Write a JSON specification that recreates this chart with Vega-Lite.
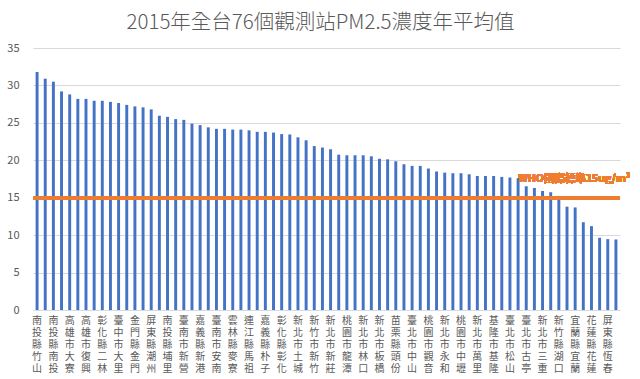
{
  "$schema": "https://vega.github.io/schema/vega-lite/v6.json",
  "width": 587,
  "height": 262,
  "autosize": {"type": "none"},
  "padding": {"left": 33, "top": 48, "right": 20, "bottom": 69},
  "background": "white",
  "title": {
    "text": "2015年全台76個觀測站PM2.5濃度年平均值",
    "font": "Noto Sans CJK TC",
    "fontSize": 20.5,
    "fontWeight": 300,
    "color": "#595959",
    "anchor": "middle",
    "dx": -6,
    "offset": 9
  },
  "config": {
    "view": {"stroke": null},
    "font": "Noto Sans CJK TC",
    "axisY": {"tickCount": 8, "labelOverlap": false}
  },
  "data": {
    "values": [
      {"station": "南投縣竹山", "pm25": 31.8},
      {"station": "高雄市小港", "pm25": 30.9},
      {"station": "南投縣南投", "pm25": 30.5},
      {"station": "高雄市前金", "pm25": 29.2},
      {"station": "高雄市大寮", "pm25": 28.8},
      {"station": "高雄市林園", "pm25": 28.2},
      {"station": "高雄市復興", "pm25": 28.2},
      {"station": "高雄市鳳山", "pm25": 27.95},
      {"station": "彰化縣二林", "pm25": 27.95},
      {"station": "高雄市仁武", "pm25": 27.8},
      {"station": "臺中市大里", "pm25": 27.65},
      {"station": "高雄市前鎮", "pm25": 27.4},
      {"station": "金門縣金門", "pm25": 27.2},
      {"station": "嘉義市嘉義", "pm25": 27.07},
      {"station": "屏東縣潮州", "pm25": 26.8},
      {"station": "高雄市左營", "pm25": 25.95},
      {"station": "南投縣埔里", "pm25": 25.8},
      {"station": "臺南市臺南", "pm25": 25.5},
      {"station": "臺南市新營", "pm25": 25.4},
      {"station": "高雄市楠梓", "pm25": 24.9},
      {"station": "嘉義縣新港", "pm25": 24.7},
      {"station": "雲林縣斗六", "pm25": 24.4},
      {"station": "臺南市安南", "pm25": 24.2},
      {"station": "高雄市橋頭", "pm25": 24.2},
      {"station": "雲林縣麥寮", "pm25": 24.1},
      {"station": "臺南市善化", "pm25": 24.1},
      {"station": "連江縣馬祖", "pm25": 24.0},
      {"station": "屏東縣屏東", "pm25": 23.8},
      {"station": "嘉義縣朴子", "pm25": 23.8},
      {"station": "臺中市忠明", "pm25": 23.7},
      {"station": "彰化縣彰化", "pm25": 23.5},
      {"station": "高雄市美濃", "pm25": 23.45},
      {"station": "新北市土城", "pm25": 23.07},
      {"station": "雲林縣崙背", "pm25": 22.67},
      {"station": "新竹市新竹", "pm25": 21.9},
      {"station": "苗栗縣苗栗", "pm25": 21.7},
      {"station": "新北市新莊", "pm25": 21.47},
      {"station": "臺中市沙鹿", "pm25": 20.75},
      {"station": "桃園市龍潭", "pm25": 20.67},
      {"station": "臺中市西屯", "pm25": 20.67},
      {"station": "新北市林口", "pm25": 20.67},
      {"station": "雲林縣臺西", "pm25": 20.53},
      {"station": "新北市板橋", "pm25": 20.2},
      {"station": "彰化縣線西", "pm25": 20.13},
      {"station": "苗栗縣頭份", "pm25": 19.87},
      {"station": "臺中市豐原", "pm25": 19.47},
      {"station": "臺北市中山", "pm25": 19.25},
      {"station": "桃園市平鎮", "pm25": 19.25},
      {"station": "桃園市觀音", "pm25": 18.9},
      {"station": "桃園市桃園", "pm25": 18.5},
      {"station": "新北市永和", "pm25": 18.35},
      {"station": "臺北市萬華", "pm25": 18.27},
      {"station": "桃園市中壢", "pm25": 18.27},
      {"station": "新北市新店", "pm25": 18.13},
      {"station": "新北市萬里", "pm25": 17.9},
      {"station": "苗栗縣三義", "pm25": 17.9},
      {"station": "基隆市基隆", "pm25": 17.9},
      {"station": "新北市菜寮", "pm25": 17.78},
      {"station": "臺北市松山", "pm25": 17.7},
      {"station": "新竹縣竹東", "pm25": 17.6},
      {"station": "臺北市古亭", "pm25": 16.53},
      {"station": "桃園市大園", "pm25": 16.3},
      {"station": "新北市三重", "pm25": 15.9},
      {"station": "新北市汐止", "pm25": 15.73},
      {"station": "新竹縣湖口", "pm25": 15.24},
      {"station": "新北市淡水", "pm25": 13.8},
      {"station": "宜蘭縣宜蘭", "pm25": 13.7},
      {"station": "臺北市士林", "pm25": 11.73},
      {"station": "花蓮縣花蓮", "pm25": 11.2},
      {"station": "臺東縣臺東", "pm25": 9.65},
      {"station": "屏東縣恆春", "pm25": 9.47},
      {"station": "臺東縣關山", "pm25": 9.42}
    ]
  },
  "layer": [
    {
      "mark": {"type": "bar", "color": "#4472C4"},
      "encoding": {
        "x": {
          "field": "station",
          "type": "nominal",
          "sort": null,
          "scale": {"paddingInner": 0.64, "paddingOuter": 0.32},
          "axis": {
            "title": null,
            "domain": true,
            "domainColor": "#d9d9d9",
            "ticks": false,
            "grid": false,
            "labelAngle": 0,
            "labelAlign": "center",
            "labelBaseline": "top",
            "labelColor": "#595959",
            "labelFont": "Noto Sans CJK TC",
            "labelFontSize": 10,
            "labelLineHeight": 12,
            "labelPadding": 5,
            "labelOverlap": false,
            "labelExpr": "indexof(domain('x'), datum.value) % 2 == 0 ? split(datum.label, '') : ''"
          }
        },
        "y": {
          "field": "pm25",
          "type": "quantitative",
          "scale": {"domain": [0, 35], "nice": false},
          "axis": {
            "title": null,
            "values": [0, 5, 10, 15, 20, 25, 30, 35],
            "tickCount": 8,
            "grid": true,
            "gridColor": "#d9d9d9",
            "domain": false,
            "ticks": false,
            "labelColor": "#595959",
            "labelFontSize": 11,
            "labelPadding": 14
          }
        }
      }
    },
    {
      "mark": {"type": "rule", "color": "#ED7D31", "strokeWidth": 3},
      "encoding": {"y": {"datum": 15, "type": "quantitative"}}
    },
    {
      "mark": {
        "type": "text",
        "color": "#ED7D31",
        "font": "Noto Sans CJK TC",
        "fontWeight": "bold",
        "fontSize": 10.5,
        "align": "left",
        "baseline": "middle",
        "dx": -8,
        "dy": -19
      },
      "encoding": {
        "x": {"datum": "臺北市古亭", "type": "nominal"},
        "y": {"datum": 15, "type": "quantitative"},
        "text": {"value": "WHO國際標準15ug/m³"}
      }
    }
  ]
}
